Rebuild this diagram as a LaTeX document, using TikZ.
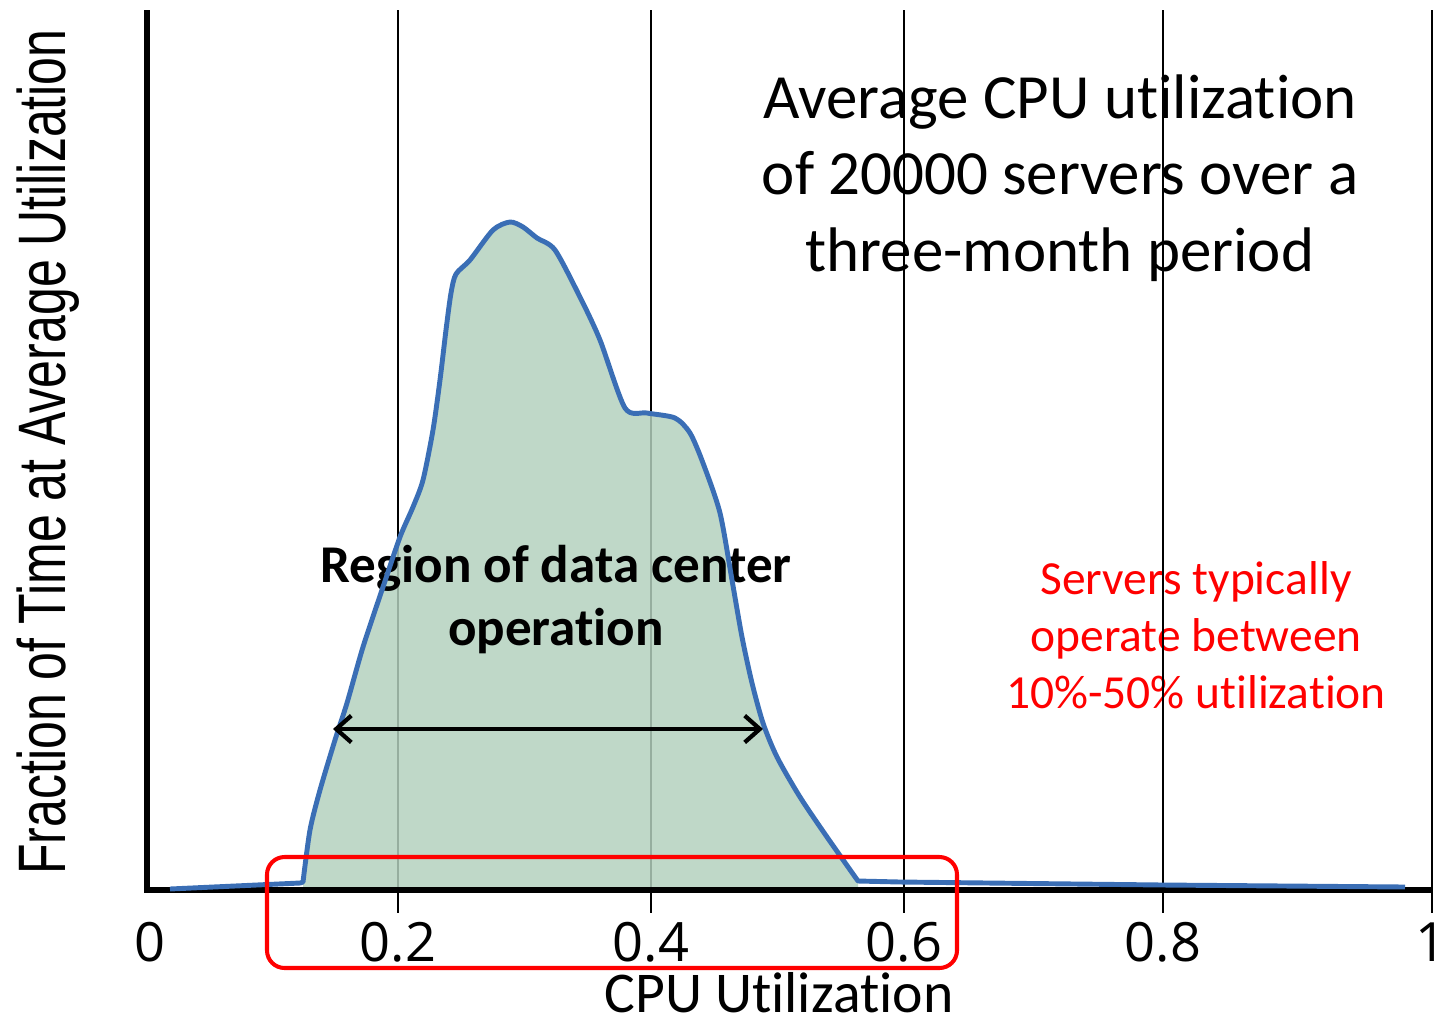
\documentclass[tikz,border=0pt]{standalone}
\usepackage{fontspec}
\setmainfont[RawFeature={-liga;-clig;-calt;-dlig}]{Carlito}
\newfontfamily\tickfont{Open Sans}
\newfontfamily\ylabfont{Liberation Sans}
\usetikzlibrary{arrows.meta}
\definecolor{curveblue}{RGB}{58,110,181}
\definecolor{areagreen}{RGB}{179,208,190}
\begin{document}
\begin{tikzpicture}[x=0.01cm,y=-0.01cm,
  gridline/.style={line width=0.75pt, black},
  axisline/.style={line width=1.45pt, black},
  ticklabel/.style={font=\tickfont\fontsize{15.4}{17}\selectfont, anchor=base, inner sep=0pt},
  titletext/.style={font=\fontsize{17.9}{21.9}\selectfont, anchor=base, inner sep=0pt},
  regiontext/.style={font=\bfseries\fontsize{15.1}{17.9}\selectfont, anchor=base, inner sep=0pt},
  notetext/.style={font=\fontsize{13.5}{16.2}\selectfont, text=red, anchor=base, inner sep=0pt},
  curveline/.style={line width=1.4pt, curveblue, line join=round},
  rangearrow/.style={line width=1.2pt, {Straight Barb[length=4.3pt,width=7.6pt]}-{Straight Barb[length=4.3pt,width=7.6pt]}},
  highlight/.style={line width=1.15pt, red, rounded corners=5pt}
]
\useasboundingbox (0,0) rectangle (1447,1023);

% title and note texts (behind grid lines)
\node[titletext] (title1) at (1060,118) {Average CPU utilization};
\node[titletext] (title2) at (1060,194) {of 20000 servers over a};
\node[titletext] (title3) at (1060,271) {three-month period};

\node[notetext] (note1) at (1196,594) {Servers typically};
\node[notetext] (note2) at (1196,651) {operate between};
\node[notetext] (note3) at (1196,708) {10\%-50\% utilization};

% tick labels
\node[ticklabel] (t0) at (150,961) {0};
\node[ticklabel] (t2) at (398,961) {0.2};
\node[ticklabel] (t4) at (651,961) {0.4};
\node[ticklabel] (t6) at (904,961) {0.6};
\node[ticklabel] (t8) at (1163,961) {0.8};
\node[ticklabel, anchor=base east] (t10) at (1447,961) {1};

% axis titles
\node[font=\fontsize{16.4}{19}\selectfont, anchor=base, inner sep=0pt] (xlab) at (779,1012) {CPU Utilization};
\node[rotate=90, anchor=base, inner sep=0pt] (ylab) at (66,452)
  {\resizebox{8.45cm}{\height}{\ylabfont\fontsize{19.1}{22}\selectfont Fraction of Time at Average Utilization}};

% grid lines
\foreach \gx in {398,651,904,1163,1432}
  \draw[gridline] (\gx,10) -- (\gx,913);

% filled area
\fill[areagreen, fill opacity=0.84] (303,888) -- (303,882) --
  plot[smooth, tension=0.45] coordinates {
   (303,882) (310,830) (320,790) (335,740) (347,703) (363,647) (383,587)
   (400,537) (413,507) (423,480) (433,430) (440,380) (446,330) (451,293)
   (456,274) (470,260) (493,230) (510,222) (523,227) (537,238) (555,250)
   (580,297) (600,340) (625,408) (647,413) (675,418) (690,433) (703,463)
   (720,513) (732,580) (742,637) (752,683) (763,723) (777,757) (800,797)
   (827,837) (858,881)}
  -- (858,888) -- cycle;

% axes
\draw[axisline] (147,10) -- (147,890) -- (1432,890);

% region text
\node[regiontext] (region1) at (556,582) {Region of data center};
\node[regiontext] (region2) at (556,645) {operation};

% curve
\draw[curveline] (170,889) -- (300,883) --
  plot[smooth, tension=0.45] coordinates {
   (303,882) (310,830) (320,790) (335,740) (347,703) (363,647) (383,587)
   (400,537) (413,507) (423,480) (433,430) (440,380) (446,330) (451,293)
   (456,274) (470,260) (493,230) (510,222) (523,227) (537,238) (555,250)
   (580,297) (600,340) (625,408) (647,413) (675,418) (690,433) (703,463)
   (720,513) (732,580) (742,637) (752,683) (763,723) (777,757) (800,797)
   (827,837) (858,881)}
  -- (900,882) -- (1163,885) -- (1405,887);

% range arrow
\coordinate (arrL) at (333,729);
\coordinate (arrR) at (763,729);
\draw[rangearrow] (arrL) -- (arrR);

% highlight box
\draw[highlight] (267,857) rectangle (957,968);
\end{tikzpicture}
\end{document}
